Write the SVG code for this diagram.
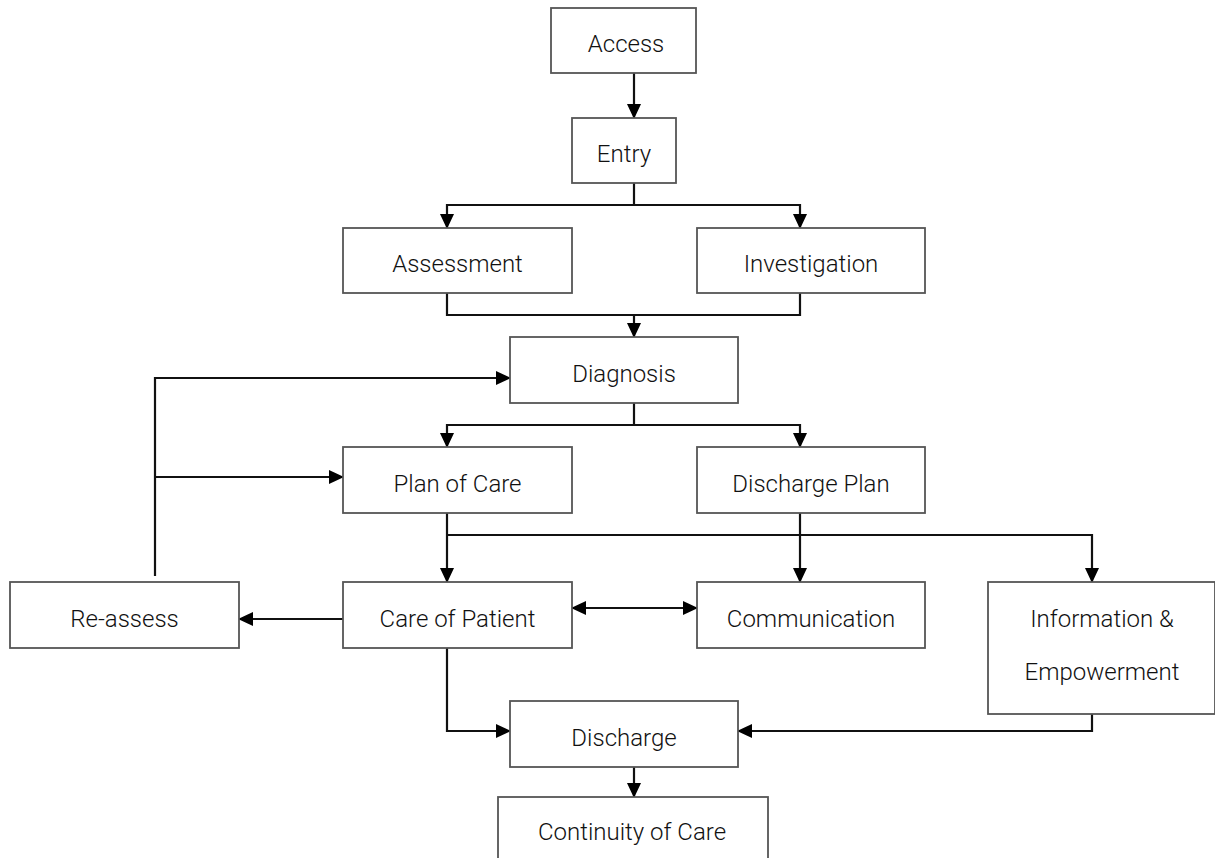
<svg xmlns="http://www.w3.org/2000/svg" width="1215" height="858" viewBox="0 0 1215 858">
<style>
.box{fill:#fff;stroke:#555;stroke-width:1.8}
.t{font-family:Roboto,"Liberation Sans",sans-serif;font-size:24px;font-weight:300;fill:#111;text-anchor:middle}
.c{fill:none;stroke:#111;stroke-width:2.2}
.a{marker-end:url(#ah)}
</style>
<defs>
<marker id="ah" markerUnits="userSpaceOnUse" markerWidth="15" markerHeight="14" refX="14" refY="7" orient="auto-start-reverse" viewBox="0 0 15 14">
<path d="M0,0 L15,7 L0,14 z" fill="#000"/>
</marker>
</defs>
<rect width="1215" height="858" fill="#fff"/>
<g id="connectors">
<path class="c a" d="M634,73 V118"/>
<path class="c a" d="M634,183 V205 H447 V228"/>
<path class="c a" d="M634,205 H800 V228"/>
<path class="c" d="M447,293 V315 H800 V293"/>
<path class="c a" d="M634,315 V337"/>
<path class="c a" d="M634,403 V425 H447 V447"/>
<path class="c a" d="M634,425 H800 V447"/>
<path class="c a" d="M155,576 V378 H510"/>
<path class="c a" d="M155,477 H343"/>
<path class="c a" d="M447,513 V582"/>
<path class="c a" d="M447,535 H1092 V582"/>
<path class="c a" d="M800,513 V582"/>
<path class="c a" d="M343,619 H239"/>
<path class="c a" d="M572,608 H697" marker-start="url(#ah)"/>
<path class="c a" d="M447,645 V731 H510"/>
<path class="c a" d="M1092,710 V731 H738"/>
<path class="c a" d="M634,758 V797"/>
</g>
<g id="access"><rect class="box" x="551" y="8" width="145" height="65"/><text class="t" x="626" y="52">Access</text></g>
<g id="entry"><rect class="box" x="572" y="118" width="104" height="65"/><text class="t" x="624" y="162">Entry</text></g>
<g id="assessment"><rect class="box" x="343" y="228" width="229" height="65"/><text class="t" x="457.5" y="272">Assessment</text></g>
<g id="investigation"><rect class="box" x="697" y="228" width="228" height="65"/><text class="t" x="811" y="272">Investigation</text></g>
<g id="diagnosis"><rect class="box" x="510" y="337" width="228" height="66"/><text class="t" x="624" y="382">Diagnosis</text></g>
<g id="plan-of-care"><rect class="box" x="343" y="447" width="229" height="66"/><text class="t" x="457.5" y="492">Plan of Care</text></g>
<g id="discharge-plan"><rect class="box" x="697" y="447" width="228" height="66"/><text class="t" x="811" y="492">Discharge Plan</text></g>
<g id="re-assess"><rect class="box" x="10" y="582" width="229" height="66"/><text class="t" x="124.5" y="627">Re-assess</text></g>
<g id="care-of-patient"><rect class="box" x="343" y="582" width="229" height="66"/><text class="t" x="457.5" y="627">Care of Patient</text></g>
<g id="communication"><rect class="box" x="697" y="582" width="228" height="66"/><text class="t" x="811" y="627">Communication</text></g>
<g id="information-empowerment"><rect class="box" x="988" y="582" width="227" height="132"/><text class="t" x="1102" y="627">Information &amp;</text><text class="t" x="1102" y="680">Empowerment</text></g>
<g id="discharge"><rect class="box" x="510" y="701" width="228" height="66"/><text class="t" x="624" y="746">Discharge</text></g>
<g id="continuity-of-care"><rect class="box" x="498" y="797" width="270" height="70"/><text class="t" x="632" y="840">Continuity of Care</text></g>
</svg>
